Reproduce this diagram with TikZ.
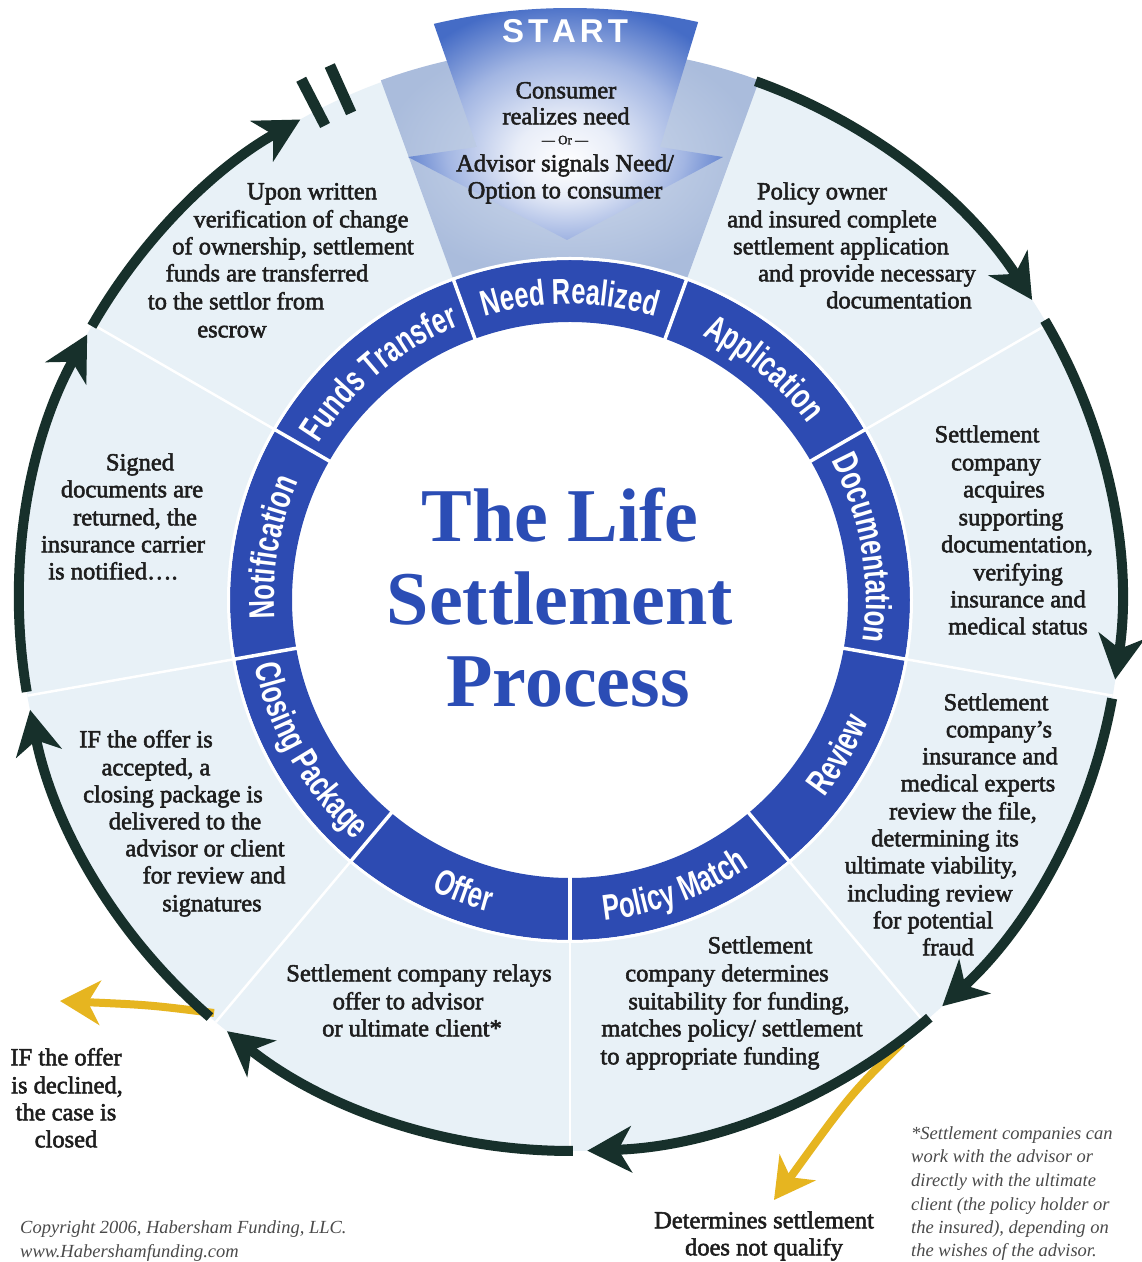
\documentclass[tikz,border=0pt]{standalone}
\usepackage{fontspec}
\setmainfont{Liberation Serif}
\newfontfamily\bodyfont[FakeBold=2.2]{Liberation Serif}
\newfontfamily\notefont{Liberation Serif}
\newfontfamily\condfont[UprightFont=* Bold,FakeStretch=0.71]{Liberation Sans}
\newfontfamily\startfont[UprightFont=* Bold]{Liberation Sans}
\usetikzlibrary{arrows.meta,decorations.text,calc}
\definecolor{ringblue}{HTML}{2D4BB2}
\definecolor{titleblue}{HTML}{2B4DB5}
\definecolor{diskblue}{HTML}{E8F1F7}
\definecolor{secgrayA}{HTML}{D0DBEC}
\definecolor{secgrayB}{HTML}{AABCDC}
\definecolor{funnelblue}{HTML}{456CC6}
\definecolor{darkarrow}{HTML}{17302B}
\definecolor{goldc}{HTML}{E6B520}
\definecolor{bodytext}{HTML}{1E1E1E}
\definecolor{notegray}{HTML}{4A4A4A}
\pgfdeclareradialshading{funnelglow}{\pgfpoint{0bp}{-9bp}}{color(0bp)=(white); color(8bp)=(white!88!funnelblue); color(19bp)=(white!50!funnelblue); color(29bp)=(funnelblue); color(50bp)=(funnelblue)}
\newcommand\segfont{\condfont\fontsize{36pt}{36pt}\selectfont}
\newcommand\txtline[4]{\node[bodytxt] (#1) at (#2,{1262-#3}) {#4};}
\newcommand\noteline[4]{\node[notetxt] (#1) at (#2,{1262-#3}) {#4};}
\newcommand\seglabel[4]{\path[decorate, decoration={text along path, text={|\segfont|#1}, text align=center, text color=white}] ([shift={(#2:#4)}]C) arc[start angle=#2, end angle=#3, radius=#4];}
\begin{document}
\begin{tikzpicture}[x=1pt,y=1pt,
  bodytxt/.style={font={\bodyfont\fontsize{24.5pt}{27pt}\selectfont}, text=bodytext, inner sep=0pt, anchor=mid, yshift=-4pt},
  notetxt/.style={font={\notefont\itshape\fontsize{18.5pt}{23pt}\selectfont}, text=notegray, inner sep=0pt, anchor=mid west, yshift=-4pt},
  titletxt/.style={font={\rmfamily\bfseries\fontsize{76pt}{83pt}\selectfont}, text=titleblue, inner sep=0pt, anchor=base},
  darkarc/.style={draw=darkarrow, line width=10pt, -{Stealth[length=44pt,width=46pt,inset=13pt]}},
  goldarrow/.style={draw=goldc, line width=8pt, -{Stealth[length=40pt,width=44pt,inset=12pt]}},
  pausebar/.style={draw=darkarrow, line width=11pt}]
\useasboundingbox (0,0) rectangle (1142,1262);
\fill[white] (0,0) rectangle (1142,1262);
\coordinate (C) at (570,662);
% light disk
\fill[diskblue] (C) circle[radius=551];
\fill[white] (C) circle[radius=278];
\foreach \a in {30,-10,-50,-90,-130,-170,150}
  \draw[white, line width=2.5pt] ([shift={(\a:340)}]C) -- ([shift={(\a:551)}]C);
% start sector
\shade[inner color=secgrayA, outer color=secgrayB] ([shift={(110:553)}]C) arc[start angle=110,end angle=70,radius=553] -- ([shift={(70:340)}]C) arc[start angle=70,end angle=110,radius=340] -- cycle;
\shade[shading=funnelglow] ([shift={(103.3:592)}]C) arc[start angle=103.3,end angle=77.5,radius=592] -- (660,{1262-147}) -- (723,{1262-157}) -- (567,{1262-240}) -- (408,{1262-157}) -- (477,{1262-147}) -- cycle;
% ring
\foreach \a in {70,30,-10,-50,-90,-130,-170,150,110}
  \fill[ringblue] ([shift={(\a:340)}]C) arc[start angle=\a, end angle=\a+40, radius=340] -- ([shift={(\a+40:278)}]C) arc[start angle=\a+40, end angle=\a, radius=278] -- cycle;
\foreach \a in {70,30,-10,-50,-90,-130,-170,150,110}
  \draw[white, line width=3.5pt] ([shift={(\a:276)}]C) -- ([shift={(\a:343)}]C);
\draw[white, line width=3pt] (C) circle[radius=341.5];
\seglabel{Need Realized}{110}{70}{296}
\seglabel{Application}{70}{30}{296}
\seglabel{Documentation}{30}{-10}{296}
\seglabel{Review}{-50}{-10}{322}
\seglabel{Policy Match}{-90}{-50}{322}
\seglabel{Offer}{-130}{-90}{322}
\seglabel{Closing Package}{-170}{-130}{322}
\seglabel{Notification}{190}{150}{296}
\seglabel{Funds Transfer}{150}{110}{296}
% title
\node[titletxt] (t1) at (560,{1262-542}) {The Life};
\node[titletxt] (t2) at (560,{1262-625}) {Settlement};
\node[titletxt] (t3) at (568,{1262-707}) {Process};
% start funnel text
\node[font={\startfont\fontsize{33pt}{33pt}\selectfont}, text=white, inner sep=0pt] (start) at (565,{1262-31}) {S\kern4pt T\kern4pt A\kern4pt R\kern4pt T};
\txtline{f1}{566}{92}{Consumer}
\txtline{f2}{566}{118}{realizes need}
\node[font={\bodyfont\fontsize{13pt}{13pt}\selectfont}, text=bodytext, inner sep=0pt, anchor=mid] (f3) at (565,{1262-142}) {— Or —};
\txtline{f4}{565}{165}{Advisor signals Need/}
\txtline{f5}{565}{192}{Option to consumer}
% upper left
\txtline{ul1}{312}{193}{Upon written}
\txtline{ul2}{301}{221}{verification of change}
\txtline{ul3}{293}{248}{of ownership, settlement}
\txtline{ul4}{267}{275}{funds are transferred}
\txtline{ul5}{236}{303}{to the settlor from}
\txtline{ul6}{232}{331}{escrow}
% upper right
\txtline{ur1}{822}{193}{Policy owner}
\txtline{ur2}{832}{221}{and insured complete}
\txtline{ur3}{841}{248}{settlement application}
\txtline{ur4}{867}{275}{and provide necessary}
\txtline{ur5}{899}{302}{documentation}
% right
\txtline{r1}{987}{436}{Settlement}
\txtline{r2}{996}{464}{company}
\txtline{r3}{1004}{491}{acquires}
\txtline{r4}{1011}{519}{supporting}
\txtline{r5}{1017}{546}{documentation,}
\txtline{r6}{1018}{574}{verifying}
\txtline{r7}{1018}{601}{insurance and}
\txtline{r8}{1018}{628}{medical status}
% lower right
\txtline{lr1}{996}{704}{Settlement}
\txtline{lr2}{999}{731}{company’s}
\txtline{lr3}{990}{758}{insurance and}
\txtline{lr4}{978}{785}{medical experts}
\txtline{lr5}{963}{813}{review the file,}
\txtline{lr6}{945}{840}{determining its}
\txtline{lr7}{931}{867}{ultimate viability,}
\txtline{lr8}{930}{895}{including review}
\txtline{lr9}{933}{922}{for potential}
\txtline{lr10}{948}{949}{fraud}
% bottom right
\txtline{br1}{760}{947}{Settlement}
\txtline{br2}{727}{975}{company determines}
\txtline{br3}{739}{1003}{suitability for funding,}
\txtline{br4}{732}{1030}{matches policy/ settlement}
\txtline{br5}{710}{1058}{to appropriate funding}
% bottom left
\txtline{bl1}{419}{975}{Settlement company relays}
\txtline{bl2}{408}{1003}{offer to advisor}
\txtline{bl3}{412}{1030}{or ultimate client*}
% left lower
\txtline{ll1}{146}{741}{IF the offer is}
\txtline{ll2}{156}{769}{accepted, a}
\txtline{ll3}{173}{796}{closing package is}
\txtline{ll4}{185}{823}{delivered to the}
\txtline{ll5}{205}{850}{advisor or client}
\txtline{ll6}{214}{877}{for review and}
\txtline{ll7}{212}{905}{signatures}
% left middle
\txtline{lm1}{140}{464}{Signed}
\txtline{lm2}{132}{491}{documents are}
\txtline{lm3}{135}{519}{returned, the}
\txtline{lm4}{123}{546}{insurance carrier}
\txtline{lm5}{113}{573}{is notified….}
% declined
\txtline{d1}{66}{1059}{IF the offer}
\txtline{d2}{67}{1087}{is declined,}
\txtline{d3}{66}{1114}{the case is}
\txtline{d4}{66}{1141}{closed}
% does not qualify
\txtline{q1}{764}{1222}{Determines settlement}
\txtline{q2}{764}{1249}{does not qualify}
% footnote
\noteline{n1}{911}{1133}{*Settlement companies can}
\noteline{n2}{911}{1156}{work with the advisor or}
\noteline{n3}{911}{1180}{directly with the ultimate}
\noteline{n4}{911}{1204}{client (the policy holder or}
\noteline{n5}{911}{1227}{the insured), depending on}
\noteline{n6}{911}{1250}{the wishes of the advisor.}
% copyright
\noteline{c1}{20}{1227}{Copyright 2006, Habersham Funding, LLC.}
\noteline{c2}{20}{1251}{www.Habershamfunding.com}
% gold arrows
\coordinate (ylS) at (214,{1262-1013});
\coordinate (ylE) at (60,{1262-1001});
\draw[goldarrow] (ylS) .. controls (150,{1262-1005}) .. (ylE);
\coordinate (ybS) at (902,{1262-1043});
\coordinate (ybE) at (774,{1262-1200});
\draw[goldarrow] (ybS) .. controls (850,{1262-1095}) .. (ybE);
% dark arrows
\coordinate (a1) at ([shift={(70.3:551)}]C);
\coordinate (a2) at ([shift={(30.5:551)}]C);
\coordinate (a3) at ([shift={(-10.3:551)}]C);
\coordinate (a4) at ([shift={(-49.3:551)}]C);
\coordinate (a5) at ([shift={(-89.7:551)}]C);
\coordinate (a6) at ([shift={(-130.8:551)}]C);
\coordinate (a7) at ([shift={(-170.4:551)}]C);
\coordinate (a8) at ([shift={(150.2:551)}]C);
\draw[darkarc] (a1) arc[start angle=70.3, end angle=33, radius=551];
\draw[darkarc] (a2) arc[start angle=30.5, end angle=-8.3, radius=551];
\draw[darkarc] (a3) arc[start angle=-10.3, end angle=-47.5, radius=551];
\draw[darkarc] (a4) arc[start angle=-49.3, end angle=-88.2, radius=551];
\draw[darkarc] (a5) arc[start angle=-89.7, end angle=-128.5, radius=551];
\draw[darkarc] (a6) arc[start angle=-130.8, end angle=-168.5, radius=551];
\draw[darkarc] (a7) arc[start angle=-170.4, end angle=-208.8, radius=551];
\draw[darkarc] (a8) arc[start angle=150.2, end angle=119.3, radius=551];
% pause marks
\coordinate (p1a) at ([shift={(117.3:534)}]C);
\coordinate (p1b) at ([shift={(117.3:586)}]C);
\coordinate (p2a) at ([shift={(114.2:534)}]C);
\coordinate (p2b) at ([shift={(114.2:586)}]C);
\draw[pausebar] (p1a) -- (p1b);
\draw[pausebar] (p2a) -- (p2b);
\end{tikzpicture}
\end{document}
